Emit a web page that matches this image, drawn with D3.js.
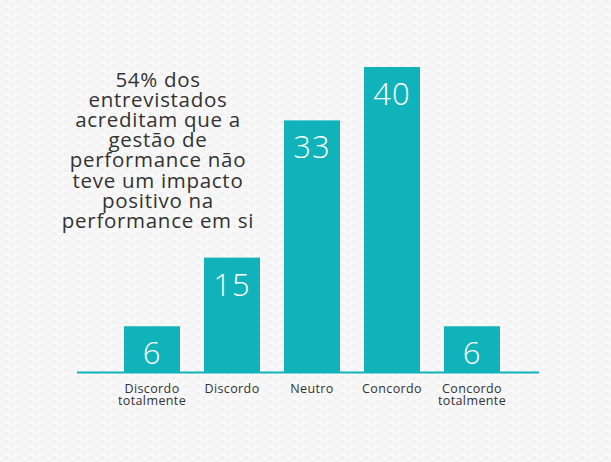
<!DOCTYPE html>
<html><head><meta charset="utf-8">
<script src="https://cdn.jsdelivr.net/npm/d3@7"></script>
<style>html,body{margin:0;padding:0;background:#f8f8f8;}svg{display:block;}</style>
</head><body>
<script>
const categories = [["Discordo","totalmente"],["Discordo"],["Neutro"],["Concordo"],["Concordo","totalmente"]];
const values = [6, 15, 33, 40, 6];
const titleLines = ["54% dos","entrevistados","acreditam que a","gestão de","performance não","teve um impacto","positivo na","performance em si"];

const W = 611, H = 462;
const FONT = "'Open Sans', sans-serif";
const BAR = "#11b3bb";
const svg = d3.select("body").append("svg").attr("width", W).attr("height", H);

const defs = svg.append("defs");
const pat = defs.append("pattern").attr("id","bg").attr("patternUnits","userSpaceOnUse").attr("width",12).attr("height",8);
pat.append("rect").attr("width",12).attr("height",8).attr("fill","#f8f8f8");
pat.append("path").attr("d","M0,8 A6,6 0 0 1 12,8 M-6,4 A6,6 0 0 1 6,4 M6,4 A6,6 0 0 1 18,4").attr("fill","none").attr("stroke","#efefef").attr("stroke-width",1);
svg.append("rect").attr("width",W).attr("height",H).attr("fill","url(#bg)");

const x = d3.scaleBand().domain(d3.range(values.length)).range([112, 512]).paddingInner(0.3).paddingOuter(0.15);
const y = d3.scaleLinear().domain([0, 40]).range([372, 67]);

const g = svg.append("g");
g.selectAll("rect.bar").data(values).join("rect").attr("class","bar")
  .attr("x",(d,i)=>x(i)).attr("width",x.bandwidth())
  .attr("y",d=>y(d)).attr("height",d=>y(0)-y(d)).attr("fill",BAR);

g.append("line").attr("x1",77).attr("x2",539).attr("y1",y(0)+0.5).attr("y2",y(0)+0.5).attr("stroke",BAR).attr("stroke-width",2);

g.selectAll("text.val").data(values).join("text").attr("class","val")
  .attr("x",(d,i)=>x(i)+x.bandwidth()/2).attr("y",d=>y(d)+38)
  .attr("text-anchor","middle").attr("fill","#fff").attr("font-family",FONT).attr("font-size",31).attr("font-weight",300)
  .attr("letter-spacing",1)
  .text(d=>d);

const cl = g.selectAll("text.cat").data(categories).join("text").attr("class","cat")
  .attr("text-anchor","middle").attr("fill","#333").attr("font-family",FONT).attr("font-size",12.5)
  .attr("letter-spacing",0.4)
  .attr("transform",(d,i)=>`translate(${x(i)+x.bandwidth()/2},393)`);
cl.selectAll("tspan").data(d=>d).join("tspan").attr("x",0).attr("dy",(d,j)=>j?12:0).text(d=>d);

svg.append("text").attr("text-anchor","middle").attr("fill","#333").attr("font-family",FONT).attr("font-size",20.5)
  .attr("letter-spacing",0.7)
  .attr("transform","translate(158,87)")
  .selectAll("tspan").data(titleLines).join("tspan").attr("x",0).attr("dy",(d,i)=>i?20.1:0).text(d=>d);
</script>
</body></html>
